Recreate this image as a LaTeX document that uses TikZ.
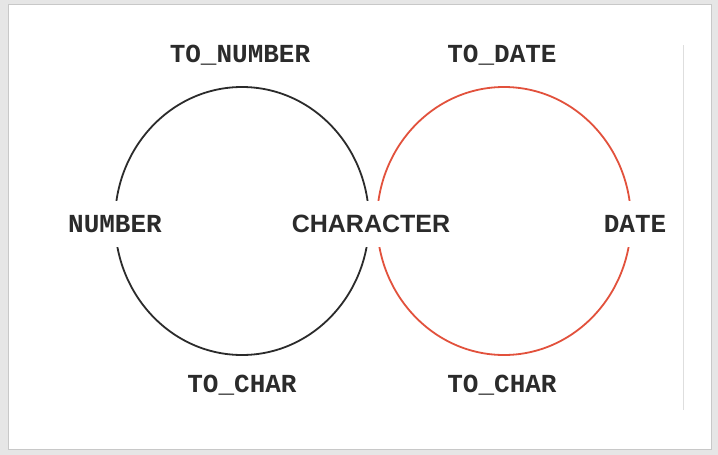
\documentclass[tikz,border=0pt]{standalone}
\usepackage{fontspec}
\setmainfont{Liberation Sans}
\setmonofont{Liberation Mono}
\usetikzlibrary{positioning,shapes.geometric}
\definecolor{SetRed}{HTML}{E2513C}
\definecolor{SetInk}{HTML}{2B2B2B}
\definecolor{FrameGrey}{HTML}{C8C8C8}

\begin{document}
\begin{tikzpicture}[x=1pt,y=-1pt,
  set/.style={ellipse,line width=1.8pt,minimum width=254pt,minimum height=268pt,inner sep=0pt},
  fn/.style={font=\ttfamily\bfseries\fontsize{26}{26}\selectfont,text=SetInk,inner sep=1pt},
  kind/.style={fn,fill=white,minimum height=46pt},
]
\useasboundingbox (0,0) rectangle (718,455);
% frame
\fill[FrameGrey!45] (0,0) rectangle (718,455);
\draw[FrameGrey,fill=white] (8,4) rectangle (711,449);
\draw[FrameGrey!60,line width=1pt] (683,45) -- (683,410);
% the two sets
\node[set,draw=SetInk] (num) at (242,221) {};
\node[set,draw=SetRed] (date) at (504,221) {};
% conversions
\node[fn] (tonum) at (240,55) {TO\_NUMBER};
\node[fn] (todate) at (502,55) {TO\_DATE};
\node[fn] (tochara) at (242,385) {TO\_CHAR};
\node[fn] (tocharb) at (502,385) {TO\_CHAR};
% data types
\node[kind] (numtype) at (115,224) {NUMBER};
\node[kind,font=\rmfamily\bfseries\fontsize{25}{25}\selectfont,inner sep=3pt] (chartype) at (371,224) {CHARACTER};
\node[kind] (datetype) at (635,224) {DATE};
\end{tikzpicture}
\end{document}
